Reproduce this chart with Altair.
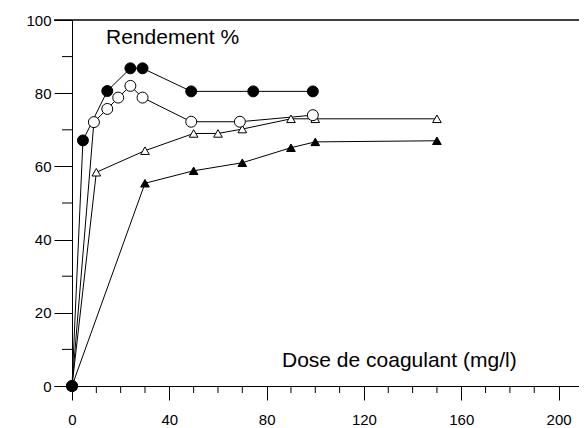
import altair as alt
import pandas as pd

# Series: dose (mg/l) and yield (%)
a_x = [0, 4.5, 14.5, 24, 29, 49, 74.5, 99]
a_y = [0, 67.1, 80.6, 86.8, 86.8, 80.5, 80.5, 80.5]

b_x = [0, 9, 14.5, 19, 24, 29, 49, 69, 99]
b_y = [0, 72.1, 75.7, 78.8, 82.0, 78.8, 72.2, 72.2, 74.0]

c_x = [0, 10, 30, 50, 60, 70, 90, 100, 150]
c_y = [0, 58.4, 64.3, 69.0, 69.0, 70.2, 73.0, 73.0, 73.0]

d_x = [0, 30, 50, 70, 90, 100, 150]
d_y = [0, 55.4, 58.8, 61.0, 65.1, 66.7, 67.0]

x_major = [0, 40, 80, 120, 160, 200]
x_minor = [10, 20, 30, 50, 60, 70, 90, 100, 110, 130, 140, 150, 170, 180, 190]
y_major = [0, 20, 40, 60, 80, 100]
y_minor = [10, 30, 50, 70, 90]

W, H = 525, 366
FONT = "Liberation Sans"

def frame(xs, ys, name):
    return pd.DataFrame({"x": xs, "y": ys, "s": name})

df = pd.concat([frame(a_x, a_y, "A"), frame(b_x, b_y, "B"),
                frame(c_x, c_y, "C"), frame(d_x, d_y, "D")], ignore_index=True)

xs = alt.Scale(domain=[-7.4, 208.4], nice=False, zero=False)
ys = alt.Scale(domain=[0, 100], nice=False, zero=False)

xaxis = alt.Axis(values=x_major, title=None, grid=False, domainColor="black",
                 tickColor="black", tickSize=14, tickWidth=1, domainWidth=1,
                 labelFontSize=15, labelFont=FONT, labelColor="black",
                 labelPadding=12, labelFlush=False, format="d")
yaxis = alt.Axis(values=y_major, title=None, grid=False, domainColor="black",
                 tickColor="black", tickSize=18, tickWidth=1, domainWidth=1,
                 labelFontSize=15, labelFont=FONT, labelColor="black",
                 labelPadding=3, offset=-18, format="d")

X = alt.X("x:Q", scale=xs, axis=xaxis)
Y = alt.Y("y:Q", scale=ys, axis=yaxis)

lines = alt.Chart(df).mark_line(color="black", strokeWidth=1).encode(
    x=X, y=Y, detail="s:N", order="x:Q")

def pts(name, shape, filled, size):
    return alt.Chart(df[df["s"] == name]).mark_point(
        shape=shape, filled=True, fill="black" if filled else "white",
        stroke="black", strokeWidth=1, size=size, opacity=1).encode(x=X, y=Y)

p_a = pts("A", "circle", True, 120)
p_b = pts("B", "circle", False, 120)
p_c = pts("C", "triangle-up", False, 75)
p_d = pts("D", "triangle-up", True, 75)

xminor = alt.Chart(pd.DataFrame({"x": x_minor})).mark_rule(
    color="black", strokeWidth=1).encode(
    x=X, y=alt.value(H), y2=alt.value(H + 7))

yminor = alt.Chart(pd.DataFrame({"y": y_minor})).mark_rule(
    color="black", strokeWidth=1).encode(
    y=Y, x=alt.value(8), x2=alt.value(18))

topline = alt.Chart(pd.DataFrame({"y": [100]})).mark_rule(
    color="black", strokeWidth=1.5).encode(
    y=Y, x=alt.value(0), x2=alt.value(W))

t1 = alt.Chart(pd.DataFrame({"t": ["Rendement %"]})).mark_text(
    align="left", baseline="alphabetic", fontSize=21, font=FONT, color="black").encode(
    text="t:N", x=alt.value(52), y=alt.value(24))

t2 = alt.Chart(pd.DataFrame({"t": ["Dose de coagulant (mg/l)"]})).mark_text(
    align="left", baseline="alphabetic", fontSize=21, font=FONT, color="black").encode(
    text="t:N", x=alt.value(228), y=alt.value(347))

chart = alt.layer(lines, xminor, yminor, topline, p_c, p_d, p_b, p_a, t1, t2).properties(
    width=W, height=H,
    autosize=alt.AutoSizeParams(type="none"),
    padding={"left": 46, "top": 12, "right": 0, "bottom": 42},
).configure_view(stroke=None)

chart.save("out.html", embed_options={"renderer": "svg", "actions": False})
